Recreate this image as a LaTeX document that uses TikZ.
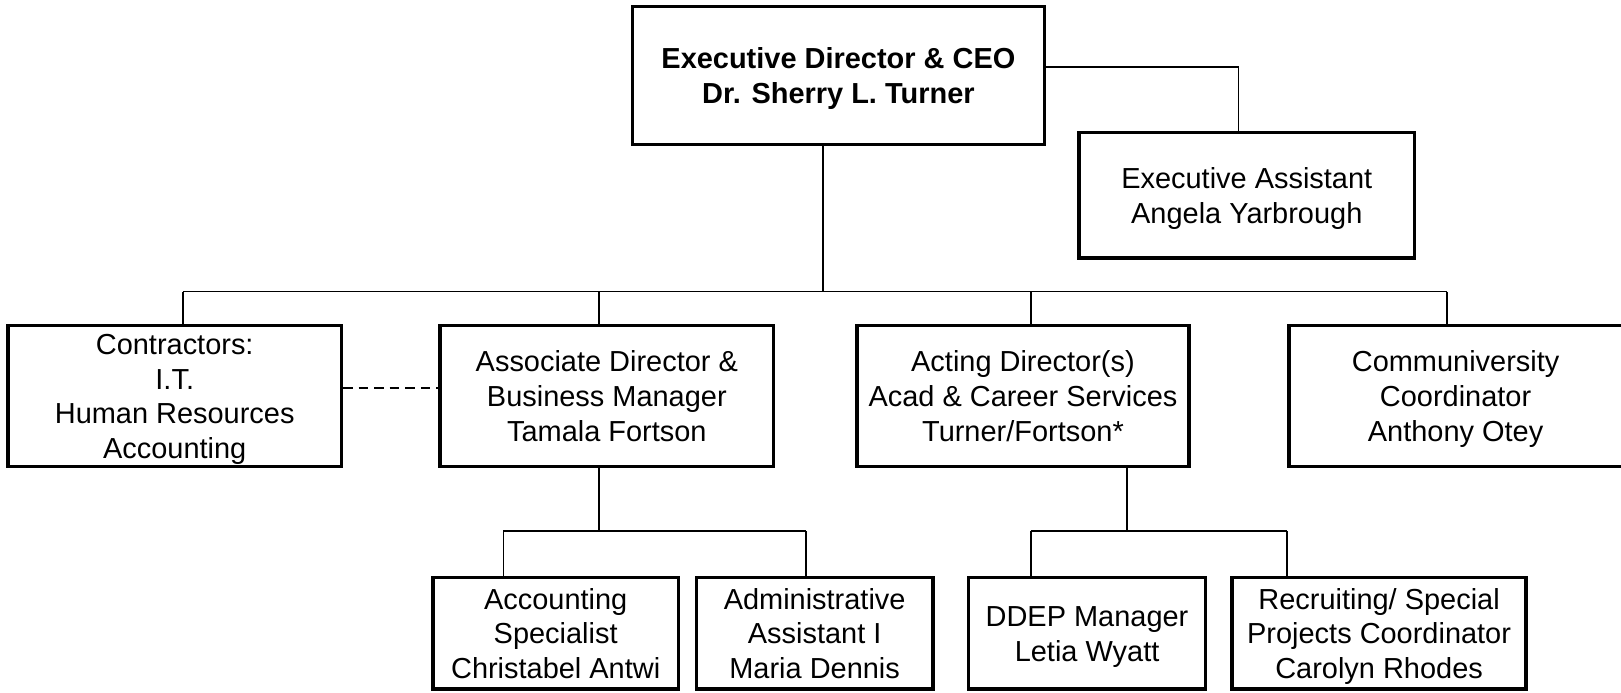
\documentclass[tikz,border=0pt]{standalone}
\usepackage{fontspec}
\setmainfont{Liberation Sans}
\newcommand\tl{\rule{0pt}{26.4pt}}
\begin{document}
\begin{tikzpicture}[x=1pt,y=-1pt,
  box/.style={draw,line width=3.5pt,inner sep=0pt,align=center,
    text depth=6pt,font=\fontsize{28}{33.5}\selectfont},
  link/.style={line width=1.8pt}]
\useasboundingbox (0,0) rectangle (1568,670);
% boxes
\node[box,minimum width=398.5pt,minimum height=133.5pt,font=\fontsize{28}{33.5}\selectfont\bfseries] (ceo) at (811,73) {\tl Executive Director \& CEO\\Dr. Sherry L. Turner};
\node[box,minimum width=324.5pt,minimum height=121.5pt] (exec) at (1206,189) {\tl Executive Assistant\\Angela Yarbrough};

\node[box,minimum width=322.5pt,minimum height=136.5pt] (contr) at (169,383) {\tl Contractors:\\I.T.\\Human Resources\\Accounting};
\node[box,minimum width=322.5pt,minimum height=136.5pt] (assoc) at (587,383) {\tl Associate Director \&\\Business Manager\\Tamala Fortson};
\node[box,minimum width=321.5pt,minimum height=136.5pt] (acting) at (989.5,383) {\tl Acting Director(s)\\Acad \& Career Services\\Turner/Fortson*};
\node[box,minimum width=322.5pt,minimum height=136.5pt] (comm) at (1408,383) {\tl Communiversity\\Coordinator\\Anthony Otey};

\node[box,minimum width=237.5pt,minimum height=107.5pt] (acct) at (537.5,612.5) {\tl Accounting\\Specialist\\Christabel Antwi};
\node[box,minimum width=228.5pt,minimum height=107.5pt] (admin) at (788,612.5) {\tl Administrative\\Assistant I\\Maria Dennis};
\node[box,minimum width=229.5pt,minimum height=107.5pt] (ddep) at (1051.5,612.5) {\tl DDEP Manager\\Letia Wyatt};
\node[box,minimum width=284.5pt,minimum height=107.5pt] (recr) at (1334,612.5) {\tl Recruiting/ Special\\Projects Coordinator\\Carolyn Rhodes};

% junctions
\coordinate (top) at (796,282);
\coordinate (t1) at (177,282);
\coordinate (t2) at (579,282);
\coordinate (t3) at (997,282);
\coordinate (t4) at (1400,282);
\coordinate (ea) at (1198,65);
\coordinate (am) at (579,514);
\coordinate (a1) at (487,514);
\coordinate (a2) at (780,514);
\coordinate (cm) at (1090,514);
\coordinate (c1) at (997,514);
\coordinate (c2) at (1245,514);

% connectors
\draw[link] (ceo.south -| top) -- (top);
\draw[link] (t1) -- (t4);
\draw[link] (t1) -- (t1 |- contr.north);
\draw[link] (t2) -- (t2 |- assoc.north);
\draw[link] (t3) -- (t3 |- acting.north);
\draw[link] (t4) -- (t4 |- comm.north);
\draw[link] (ceo.east |- ea) -- (ea) -- (ea |- exec.north);
\draw[link,dash pattern=on 9pt off 6pt] ([yshift=8pt]contr.east) -- ([yshift=8pt]assoc.west);

\draw[link] (assoc.south -| am) -- (am);
\draw[link] (a1) -- (a2);
\draw[link] (a1) -- (a1 |- acct.north);
\draw[link] (a2) -- (a2 |- admin.north);

\draw[link] (acting.south -| cm) -- (cm);
\draw[link] (c1) -- (c2);
\draw[link] (c1) -- (c1 |- ddep.north);
\draw[link] (c2) -- (c2 |- recr.north);
\end{tikzpicture}
\end{document}
